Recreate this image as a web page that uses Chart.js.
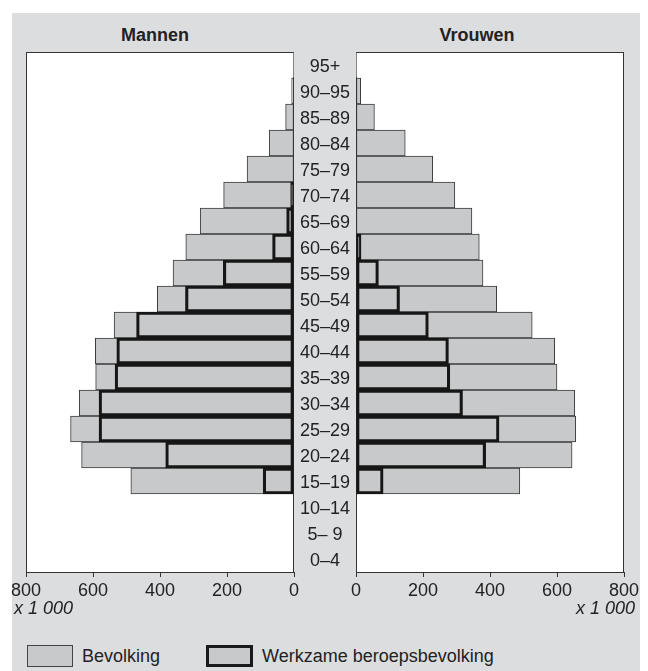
<!DOCTYPE html>
<html lang="nl">
<head>
<meta charset="utf-8">
<title>Bevolkingspiramide</title>
<script src="https://cdn.jsdelivr.net/npm/chart.js@4.4.1/dist/chart.umd.min.js"></script>
<style>
    body { margin: 0; background: #fff; font-family: "Liberation Sans", Arial, sans-serif; color: #222; }
    #paneel { position: absolute; left: 12px; top: 13px; width: 628px; height: 658px; background: #dcdddf; }
    canvas { position: absolute; top: 0; }
    .titel { position: absolute; top: 24px; width: 140px; text-align: center; font-weight: bold; font-size: 18px; line-height: 22px; }
    .eenheid { position: absolute; top: 597px; font-style: italic; font-size: 18px; line-height: 22px; }
    .leg-box { position: absolute; top: 645px; width: 46px; height: 22px; box-sizing: border-box; background: #c8c9cb; }
    .leg-tekst { position: absolute; top: 645px; font-size: 18px; line-height: 22px; }
</style>
</head>
<body>
<div id="paneel"></div>
<div class="titel" style="left:85px">Mannen</div>
<div class="titel" style="left:407px">Vrouwen</div>
<canvas id="chartMannen" width="310" height="602" style="left:0"></canvas>
<canvas id="chartVrouwen" width="354" height="602" style="left:294px"></canvas>
<div class="eenheid" style="left:14px">x 1 000</div>
<div class="eenheid" style="right:13px">x 1 000</div>
<div class="leg-box" style="left:27px; border:1px solid #444"></div>
<div class="leg-tekst" style="left:82px">Bevolking</div>
<div class="leg-box" style="left:206px; width:47px; border:3px solid #1a1a1a"></div>
<div class="leg-tekst" style="left:262px">Werkzame beroepsbevolking</div>

<script>
// leeftijdsgroepen van boven naar beneden, waarden x 1 000
const leeftijden = ['95+', '90–95', '85–89', '80–84', '75–79', '70–74', '65–69', '60–64', '55–59', '50–54',
                    '45–49', '40–44', '35–39', '30–34', '25–29', '20–24', '15–19', '10–14', '5– 9', '0–4'];
const mannenBevolking = [1, 7, 25, 74, 140, 210, 280, 323, 361, 408, 537, 593, 592, 641, 667, 634, 487, 0, 0, 0];
const mannenWerkzaam  = [0, 0, 0, 0, 0, 10, 22, 64, 211, 324, 470, 529, 534, 582, 582, 383, 92, 0, 0, 0];
const vrouwenBevolking = [2, 14, 55, 147, 229, 295, 346, 368, 379, 420, 526, 593, 600, 653, 656, 645, 489, 0, 0, 0];
const vrouwenWerkzaam  = [0, 0, 0, 0, 0, 0, 0, 15, 67, 130, 216, 276, 280, 318, 427, 387, 81, 0, 0, 0];
const asTicks = [0, 200, 400, 600, 800];

const GRIJS = '#c8c9cb';
const LIJN = '#333';

Chart.defaults.font.family = '"Liberation Sans", Arial, sans-serif';
Chart.defaults.font.size = 18;
Chart.defaults.color = '#222';

// witte plotvlakken met een dunne rand
const kaderPlugin = {
    id: 'kader',
    beforeDraw(chart) {
        const a = chart.chartArea;
        const ctx = chart.ctx;
        ctx.save();
        ctx.fillStyle = '#fff';
        ctx.fillRect(a.left, a.top, a.right - a.left, a.bottom - a.top);
        ctx.strokeStyle = LIJN;
        ctx.lineWidth = 1;
        ctx.strokeRect(a.left + 0.5, a.top + 0.5, a.right - a.left - 1, a.bottom - a.top);
        ctx.restore();
    }
};

function maakPiramideHelft(canvasId, bevolking, werkzaam, links) {
    const ctx = document.getElementById(canvasId).getContext('2d');
    return new Chart(ctx, {
        type: 'bar',
        data: {
            labels: leeftijden,
            datasets: [
                {
                    label: 'Werkzame beroepsbevolking',
                    data: werkzaam,
                    backgroundColor: 'transparent',
                    borderColor: '#161616',
                    borderWidth: 2.5,
                    borderSkipped: false,
                    grouped: false,
                    order: 0
                },
                {
                    label: 'Bevolking',
                    data: bevolking,
                    backgroundColor: GRIJS,
                    borderColor: '#3a3a3a',
                    borderWidth: 1,
                    borderSkipped: false,
                    grouped: false,
                    order: 1
                }
            ]
        },
        options: {
            indexAxis: 'y',
            responsive: false,
            animation: false,
            devicePixelRatio: 1,
            categoryPercentage: 1,
            barPercentage: 1,
            layout: {
                padding: links ? { left: 26, right: 16, top: 52, bottom: 0 }
                               : { left: 0, right: 24, top: 52, bottom: 0 }
            },
            plugins: {
                legend: { display: false },
                tooltip: { enabled: false },
                title: { display: false }
            },
            scales: {
                x: {
                    type: 'linear',
                    reverse: links,
                    min: 0,
                    max: 800,
                    afterBuildTicks: (scale) => { scale.ticks = asTicks.map(v => ({ value: v })); },
                    afterFit: (scale) => { scale.height = 30; },
                    grid: { drawOnChartArea: false, drawTicks: true, tickLength: 5, color: LIJN },
                    border: { display: true, color: LIJN },
                    ticks: { padding: 3, color: '#222', font: { size: 18 } }
                },
                y: {
                    display: !links,
                    // de leeftijdslabels staan in de grijze strook tussen beide helften
                    afterFit: (scale) => { scale.width = links ? 0 : 62; },
                    grid: { display: false, drawTicks: false },
                    border: { display: false },
                    ticks: { crossAlign: 'center', padding: 6, labelOffset: 2, color: '#222', font: { size: 18 } }
                }
            }
        },
        plugins: [kaderPlugin]
    });
}

maakPiramideHelft('chartMannen', mannenBevolking, mannenWerkzaam, true);
maakPiramideHelft('chartVrouwen', vrouwenBevolking, vrouwenWerkzaam, false);
</script>
</body>
</html>
